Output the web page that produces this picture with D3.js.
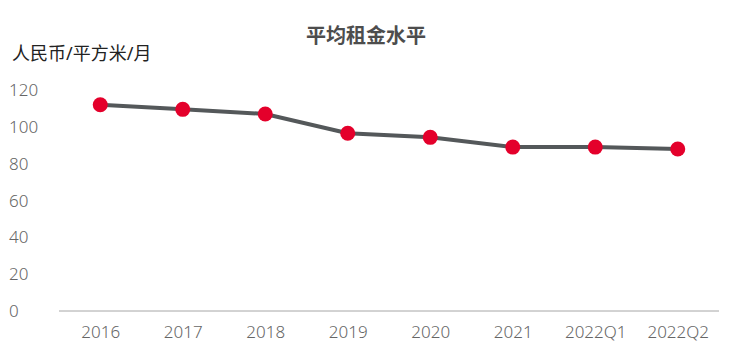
<!DOCTYPE html>
<html>
<head>
<meta charset="utf-8">
<script src="https://cdn.jsdelivr.net/npm/d3@7"></script>
<style>
  body { margin: 0; background: #fff; }
  svg text { font-family: "Noto Sans", "Noto Sans CJK SC", sans-serif; }
</style>
</head>
<body>
<svg id="chart"></svg>
<script>
var categories = ["2016", "2017", "2018", "2019", "2020", "2021", "2022Q1", "2022Q2"];
var rentValues = [112, 109.5, 107, 96.5, 94.3, 89, 89, 88];
var yTicks = [0, 20, 40, 60, 80, 100, 120];

var width = 740, height = 342;
var svg = d3.select("#chart").attr("width", width).attr("height", height);

var x = d3.scalePoint().domain(categories).range([59, 719]).padding(0.5);
var y = d3.scaleLinear().domain([0, 120]).range([311, 90]);

// title + unit
svg.append("text")
  .attr("x", 366).attr("y", 43)
  .attr("text-anchor", "middle")
  .attr("font-size", 20).attr("font-weight", "bold")
  .attr("fill", "#4d4d4d")
  .text("平均租金水平");

svg.append("text")
  .attr("x", 12).attr("y", 60)
  .attr("font-size", 18)
  .attr("fill", "#222")
  .text("人民币/平方米/月");

// y labels (no axis line)
svg.append("g").selectAll("text")
  .data(yTicks).enter()
  .append("text")
  .attr("x", 9)
  .attr("y", function(d) { return y(d); })
  .attr("dy", "0.36em")
  .attr("text-anchor", "start")
  .attr("font-size", 17)
  .attr("font-weight", 300)
  .attr("fill", "#666")
  .text(function(d) { return d; });

// x axis
var xAxis = svg.append("g")
  .attr("transform", "translate(0," + y(0) + ")")
  .call(d3.axisBottom(x).tickSize(0).tickPadding(15));
xAxis.select(".domain").attr("stroke", "#a6a6a6").attr("d", "M59,0H719");
xAxis.selectAll("text")
  .attr("font-size", 17)
  .attr("font-weight", 300)
  .attr("fill", "#666")
  .style("font-family", "'Noto Sans', sans-serif");

// line
var line = d3.line()
  .x(function(d, i) { return x(categories[i]); })
  .y(function(d) { return y(d); });

svg.append("path")
  .datum(rentValues)
  .attr("fill", "none")
  .attr("stroke", "#54585a")
  .attr("stroke-width", 4)
  .attr("d", line);

svg.selectAll("circle.pt")
  .data(rentValues).enter()
  .append("circle")
  .attr("class", "pt")
  .attr("cx", function(d, i) { return x(categories[i]); })
  .attr("cy", function(d) { return y(d); })
  .attr("r", 7.5)
  .attr("fill", "#e4002b");
</script>
</body>
</html>
